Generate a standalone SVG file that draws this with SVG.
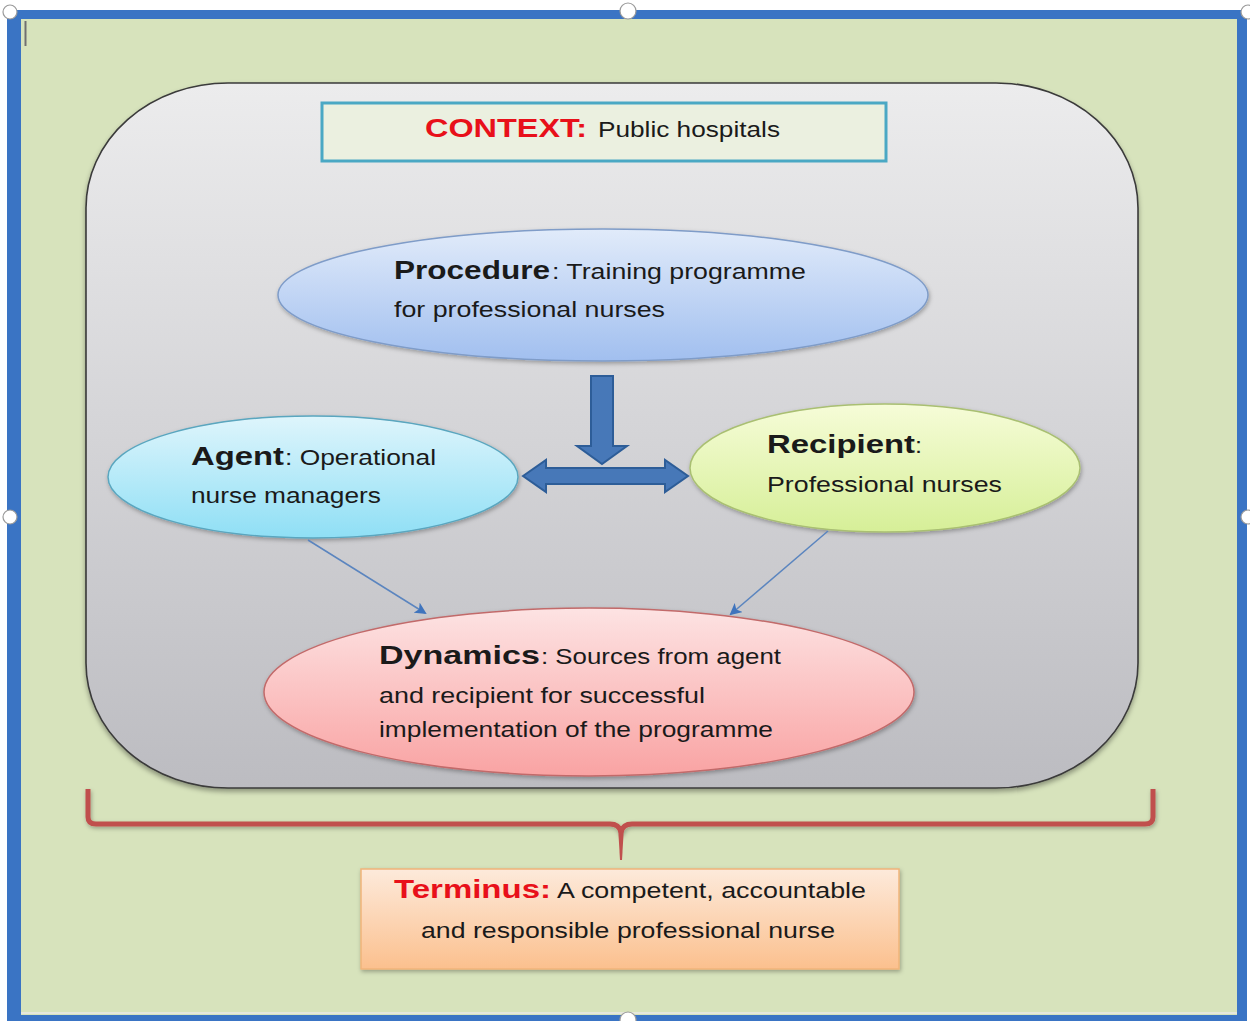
<svg xmlns="http://www.w3.org/2000/svg" width="1250" height="1021" viewBox="0 0 1250 1021">
  <style>
    text { font-family: "Liberation Sans", Arial, sans-serif; fill: #1a1a1a; }
    .b { font-weight: bold; font-size: 26px; }
    .r { font-size: 21.5px; }
    .red { fill: #e8101a; }
    .handle { fill: #ffffff; stroke: #9a9a9a; stroke-width: 1.2; }
    .thin { stroke: #5b85bf; stroke-width: 1.5; fill: none; marker-end: url(#tip); }
    .block { fill: #4778b8; stroke: #2d5d98; stroke-width: 2; stroke-linejoin: miter; }
  </style>
  <defs>
    <linearGradient id="gPanel" x1="0" y1="0" x2="0" y2="1">
      <stop offset="0" stop-color="#ececed"/>
      <stop offset="1" stop-color="#bcbcc1"/>
    </linearGradient>
    <linearGradient id="gProc" x1="0" y1="0" x2="0" y2="1">
      <stop offset="0" stop-color="#e1ebfa"/>
      <stop offset="1" stop-color="#a1bfef"/>
    </linearGradient>
    <linearGradient id="gAgent" x1="0" y1="0" x2="0" y2="1">
      <stop offset="0" stop-color="#def5fc"/>
      <stop offset="1" stop-color="#8fdff5"/>
    </linearGradient>
    <linearGradient id="gRec" x1="0" y1="0" x2="0" y2="1">
      <stop offset="0" stop-color="#f6fcd8"/>
      <stop offset="1" stop-color="#d6ef98"/>
    </linearGradient>
    <linearGradient id="gDyn" x1="0" y1="0" x2="0" y2="1">
      <stop offset="0" stop-color="#fde3e3"/>
      <stop offset="1" stop-color="#f9a3a3"/>
    </linearGradient>
    <linearGradient id="gTerm" x1="0" y1="0" x2="0" y2="1">
      <stop offset="0" stop-color="#fdeadb"/>
      <stop offset="1" stop-color="#fbc08e"/>
    </linearGradient>
    <filter id="shadow" x="-10%" y="-10%" width="120%" height="130%">
      <feDropShadow dx="0" dy="3" stdDeviation="2.5" flood-color="#000" flood-opacity="0.35"/>
    </filter>
    <filter id="softShadow" x="-10%" y="-10%" width="120%" height="130%">
      <feDropShadow dx="1" dy="2" stdDeviation="2" flood-color="#000" flood-opacity="0.3"/>
    </filter>
    <marker id="tip" markerWidth="12" markerHeight="12" refX="10" refY="6" orient="auto" markerUnits="userSpaceOnUse">
      <path d="M0,0 L12,6 L0,12 L3,6 Z" fill="#3f74bd"/>
    </marker>
  </defs>

  <!-- page background and selection frame -->
  <g id="frame">
    <rect x="0" y="0" width="1250" height="1021" fill="#ffffff"/>
    <rect x="7" y="10" width="1240" height="1011" fill="#3a74c4"/>
    <rect x="21" y="19" width="1216" height="996" fill="#d7e3bc"/>
    <line x1="21" y1="1013" x2="1237" y2="1013" stroke="#e6e8dc" stroke-width="2"/>
    <line x1="25.5" y1="21" x2="25.5" y2="46" stroke="#707070" stroke-width="2"/>
    <circle class="handle" cx="10" cy="12" r="7"/>
    <circle class="handle" cx="628" cy="11" r="8"/>
    <circle class="handle" cx="1248" cy="12" r="7"/>
    <circle class="handle" cx="10" cy="517" r="7"/>
    <circle class="handle" cx="1248" cy="517" r="7"/>
    <circle class="handle" cx="628" cy="1020" r="8"/>
  </g>

  <!-- rounded container panel -->
  <g id="container">
    <rect x="86" y="83" width="1052" height="705" rx="142" ry="125" fill="url(#gPanel)" stroke="#3a3a3a" stroke-width="1.6" filter="url(#shadow)"/>
  </g>

  <g id="context">
    <rect x="322" y="103" width="564" height="58" fill="#ebf0e0" stroke="#4aa8c4" stroke-width="3"/>
    <text class="b red" x="425" y="137" textLength="162" lengthAdjust="spacingAndGlyphs">CONTEXT:</text>
    <text class="r" x="598" y="137" textLength="182" lengthAdjust="spacingAndGlyphs">Public hospitals</text>
  </g>

  <g id="procedure">
    <ellipse cx="603" cy="295" rx="325" ry="66" fill="url(#gProc)" stroke="#7f9cc8" stroke-width="1.5" filter="url(#softShadow)"/>
    <text class="b" x="394" y="279" textLength="156" lengthAdjust="spacingAndGlyphs">Procedure</text>
    <text class="r" x="552" y="279" textLength="254" lengthAdjust="spacingAndGlyphs">: Training programme</text>
    <text class="r" x="394" y="317" textLength="271" lengthAdjust="spacingAndGlyphs">for professional nurses</text>
  </g>

  <g id="agent">
    <ellipse cx="313" cy="477" rx="205" ry="61" fill="url(#gAgent)" stroke="#5aa6bf" stroke-width="1.5" filter="url(#softShadow)"/>
    <text class="b" x="191" y="465" textLength="93" lengthAdjust="spacingAndGlyphs">Agent</text>
    <text class="r" x="285" y="465" textLength="151" lengthAdjust="spacingAndGlyphs">: Operational</text>
    <text class="r" x="191" y="503" textLength="190" lengthAdjust="spacingAndGlyphs">nurse managers</text>
  </g>

  <g id="recipient">
    <ellipse cx="885" cy="468" rx="195" ry="64" fill="url(#gRec)" stroke="#a9bf72" stroke-width="1.5" filter="url(#softShadow)"/>
    <text class="b" x="767" y="453" textLength="148" lengthAdjust="spacingAndGlyphs">Recipient</text>
    <text class="r" x="915" y="453" textLength="7" lengthAdjust="spacingAndGlyphs">:</text>
    <text class="r" x="767" y="492" textLength="235" lengthAdjust="spacingAndGlyphs">Professional nurses</text>
  </g>

  <g id="dynamics">
    <ellipse cx="589" cy="692" rx="325" ry="84" fill="url(#gDyn)" stroke="#c26a6a" stroke-width="1.5" filter="url(#softShadow)"/>
    <text class="b" x="379" y="664" textLength="161" lengthAdjust="spacingAndGlyphs">Dynamics</text>
    <text class="r" x="541" y="664" textLength="240" lengthAdjust="spacingAndGlyphs">: Sources from agent</text>
    <text class="r" x="379" y="703" textLength="326" lengthAdjust="spacingAndGlyphs">and recipient for successful</text>
    <text class="r" x="379" y="737" textLength="394" lengthAdjust="spacingAndGlyphs">implementation of the programme</text>
  </g>

  <g id="terminus">
    <rect x="361" y="869" width="538" height="100" fill="url(#gTerm)" stroke="#f0b47a" stroke-width="1.5" filter="url(#softShadow)"/>
    <text class="b red" x="394" y="898" textLength="157" lengthAdjust="spacingAndGlyphs">Terminus:</text>
    <text class="r" x="557" y="898" textLength="309" lengthAdjust="spacingAndGlyphs">A competent,  accountable</text>
    <text class="r" x="421" y="938" textLength="414" lengthAdjust="spacingAndGlyphs">and responsible professional nurse</text>
  </g>

  <g id="connectors">
    <!-- procedure feeds down into the agent/recipient exchange -->
    <polygon class="block" points="591,376 613,376 613,446 627,446 602,464 577,446 591,446"/>
    <polygon class="block" points="523,476 546,460 546,468 665,468 665,460 688,476 665,492 665,484 546,484 546,492"/>
    <!-- agent and recipient both lead to dynamics -->
    <line class="thin" x1="308" y1="540" x2="425" y2="613"/>
    <line class="thin" x1="828" y1="531" x2="731" y2="614"/>
    <!-- brace gathering the whole panel into the terminus -->
    <path d="M88,789 V817 Q88,824 96,824 H610 Q619,824 621,832 Q623,824 632,824 H1145 Q1153,824 1153,817 V789" fill="none" stroke="#c0504d" stroke-width="5" stroke-linejoin="round" filter="url(#softShadow)"/>
    <polygon points="618,826 624,826 622,860 620,860" fill="#c0504d"/>
  </g>
</svg>
